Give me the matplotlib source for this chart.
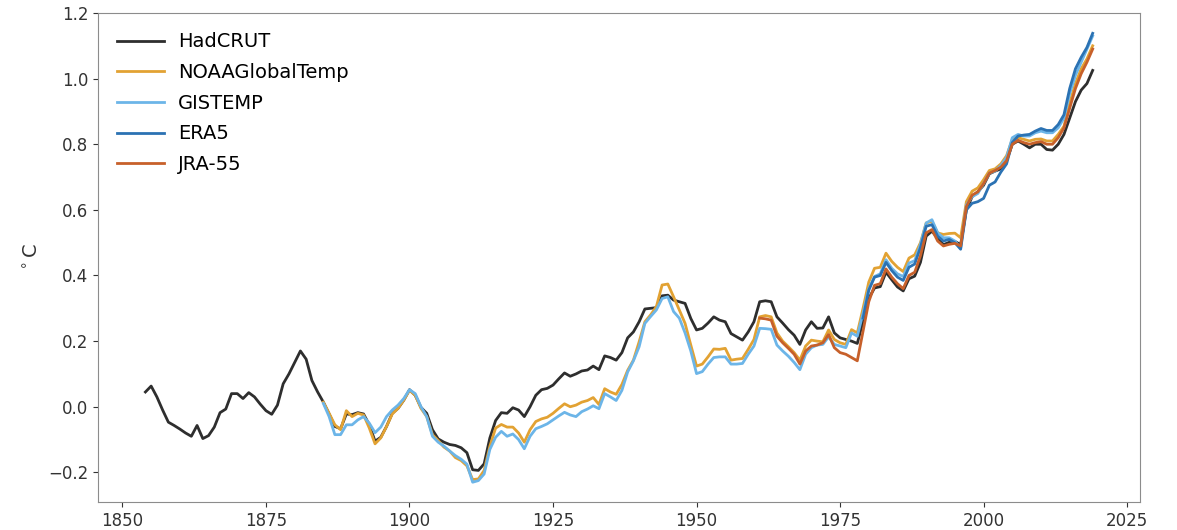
import matplotlib
matplotlib.use('Agg')
import matplotlib.pyplot as plt
import numpy as np

# annual values (deg C)
hadcrut = [0.045, 0.063, 0.030, -0.010, -0.047, -0.057, -0.068, -0.080, -0.090, -0.057,
           -0.097, -0.088, -0.062, -0.018, -0.007, 0.040, 0.040, 0.025, 0.043, 0.030,
           0.008, -0.012, -0.023, 0.005, 0.070, 0.100, 0.135, 0.170, 0.145, 0.080,
           0.045, 0.014, -0.022, -0.060, -0.067, -0.022, -0.024, -0.018, -0.022, -0.055,
           -0.105, -0.093, -0.060, -0.020, -0.005, 0.020, 0.052, 0.035, -0.002, -0.020,
           -0.070, -0.098, -0.108, -0.115, -0.118, -0.125, -0.140, -0.192, -0.194, -0.174,
           -0.095, -0.042, -0.018, -0.020, -0.003, -0.010, -0.030, 0.000, 0.035, 0.052,
           0.056, 0.066, 0.085, 0.103, 0.093, 0.100, 0.109, 0.112, 0.124, 0.113,
           0.155, 0.150, 0.142, 0.165, 0.210, 0.228, 0.259, 0.298, 0.300, 0.302,
           0.338, 0.340, 0.325, 0.320, 0.315, 0.269, 0.234, 0.239, 0.255, 0.274,
           0.264, 0.259, 0.223, 0.213, 0.203, 0.228, 0.259, 0.320, 0.323, 0.320,
           0.274, 0.255, 0.235, 0.218, 0.190, 0.234, 0.259, 0.239, 0.240, 0.274,
           0.225, 0.210, 0.205, 0.200, 0.193, 0.260, 0.330, 0.362, 0.366, 0.410,
           0.387, 0.365, 0.353, 0.390, 0.398, 0.440, 0.520, 0.535, 0.514, 0.494,
           0.501, 0.504, 0.494, 0.600, 0.640, 0.655, 0.675, 0.710, 0.718, 0.725,
           0.750, 0.800, 0.810, 0.800, 0.789, 0.800, 0.800, 0.784, 0.782, 0.800,
           0.830, 0.880, 0.930, 0.965, 0.985, 1.025]
noaa = [0.014, -0.020, -0.055, -0.070, -0.012, -0.030, -0.020, -0.025, -0.065, -0.113,
        -0.095, -0.060, -0.022, -0.005, 0.020, 0.050, 0.035, -0.005, -0.030, -0.085,
        -0.103, -0.123, -0.135, -0.155, -0.164, -0.180, -0.222, -0.220, -0.194, -0.120,
        -0.065, -0.054, -0.062, -0.062, -0.080, -0.108, -0.070, -0.045, -0.037, -0.032,
        -0.020, -0.005, 0.009, 0.000, 0.005, 0.014, 0.019, 0.028, 0.007, 0.055,
        0.045, 0.038, 0.068, 0.111, 0.142, 0.198, 0.259, 0.280, 0.305, 0.371,
        0.374, 0.335, 0.295, 0.254, 0.188, 0.124, 0.130, 0.152, 0.176, 0.175,
        0.178, 0.142, 0.145, 0.147, 0.175, 0.205, 0.274, 0.278, 0.274, 0.225,
        0.200, 0.183, 0.165, 0.142, 0.185, 0.203, 0.200, 0.198, 0.234, 0.205,
        0.195, 0.190, 0.235, 0.225, 0.300, 0.380, 0.422, 0.425, 0.468, 0.443,
        0.425, 0.412, 0.453, 0.463, 0.500, 0.560, 0.565, 0.530, 0.525, 0.528,
        0.529, 0.515, 0.625, 0.657, 0.667, 0.692, 0.720, 0.725, 0.740, 0.765,
        0.815, 0.820, 0.815, 0.810, 0.815, 0.816, 0.810, 0.810, 0.830, 0.855,
        0.925, 0.985, 1.030, 1.060, 1.100]
gistemp = [0.010, -0.030, -0.085, -0.085, -0.055, -0.055, -0.040, -0.030, -0.050, -0.079,
           -0.062, -0.030, -0.010, 0.005, 0.025, 0.052, 0.040, 0.000, -0.030, -0.090,
           -0.108, -0.120, -0.135, -0.149, -0.160, -0.175, -0.230, -0.225, -0.205, -0.130,
           -0.093, -0.075, -0.090, -0.083, -0.100, -0.128, -0.090, -0.067, -0.060, -0.052,
           -0.040, -0.028, -0.017, -0.025, -0.030, -0.015, -0.007, 0.003, -0.006, 0.040,
           0.030, 0.019, 0.050, 0.106, 0.140, 0.183, 0.254, 0.275, 0.295, 0.330,
           0.335, 0.290, 0.270, 0.225, 0.170, 0.101, 0.107, 0.130, 0.150, 0.152,
           0.152, 0.130, 0.130, 0.132, 0.160, 0.185, 0.239, 0.238, 0.236, 0.188,
           0.170, 0.154, 0.135, 0.113, 0.160, 0.180, 0.188, 0.190, 0.213, 0.190,
           0.185, 0.180, 0.225, 0.215, 0.285, 0.360, 0.397, 0.405, 0.448, 0.422,
           0.405, 0.397, 0.438, 0.445, 0.495, 0.560, 0.570, 0.530, 0.515, 0.515,
           0.505, 0.483, 0.615, 0.640, 0.650, 0.680, 0.712, 0.718, 0.735, 0.760,
           0.820, 0.830, 0.825, 0.825, 0.835, 0.840, 0.835, 0.835, 0.850, 0.880,
           0.955, 1.010, 1.050, 1.090, 1.130]
era5 = [0.270, 0.355, 0.395, 0.400, 0.440, 0.415, 0.395, 0.385, 0.425, 0.435,
        0.485, 0.550, 0.555, 0.520, 0.505, 0.510, 0.500, 0.480, 0.600, 0.620,
        0.625, 0.635, 0.675, 0.685, 0.715, 0.740, 0.805, 0.825, 0.828, 0.830,
        0.840, 0.848, 0.842, 0.842, 0.860, 0.890, 0.970, 1.030, 1.065, 1.095,
        1.138]
jra55 = [0.270, 0.268, 0.264, 0.215, 0.195, 0.178, 0.160, 0.130, 0.170, 0.185,
         0.188, 0.195, 0.220, 0.180, 0.165, 0.160, 0.150, 0.140, 0.230, 0.320,
         0.370, 0.375, 0.420, 0.395, 0.375, 0.360, 0.400, 0.410, 0.460, 0.530,
         0.540, 0.505, 0.490, 0.495, 0.498, 0.490, 0.610, 0.645, 0.655, 0.680,
         0.712, 0.720, 0.730, 0.750, 0.800, 0.812, 0.805, 0.800, 0.805, 0.808,
         0.800, 0.800, 0.820, 0.850, 0.910, 0.970, 1.015, 1.050, 1.090]

series = [
    ('HadCRUT', np.arange(1854, 2020), hadcrut, '#2e2e2e'),
    ('NOAAGlobalTemp', np.arange(1885, 2020), noaa, '#e2a233'),
    ('GISTEMP', np.arange(1885, 2020), gistemp, '#6cb5e8'),
    ('ERA5', np.arange(1979, 2020), era5, '#2b72b3'),
    ('JRA-55', np.arange(1961, 2020), jra55, '#c7602a'),
]

fig = plt.figure(figsize=(11.77, 5.30), dpi=100)
ax = fig.add_axes([0.0833, 0.053, 0.8853, 0.9225])

for name, yrs, vals, col in series:
    ax.plot(yrs, vals, color=col, lw=2.0, label=name)

ax.set_xlim(1845.75, 2027.25)
ax.set_ylim(-0.29, 1.2)
ax.set_xticks(np.arange(1850, 2026, 25))
ax.set_yticks(np.arange(-0.2, 1.21, 0.2))
ax.set_ylabel(r'$^\circ$C', fontsize=14, color='#333333')
ax.tick_params(labelsize=12, colors='#333333')
for s in ax.spines.values():
    s.set_color('#8c8c8c')

ax.legend(loc='upper left', frameon=False, fontsize=14, handlelength=2.4,
          handletextpad=0.7, labelspacing=0.6, borderaxespad=0.6)

fig.savefig('out.png', dpi=100)
